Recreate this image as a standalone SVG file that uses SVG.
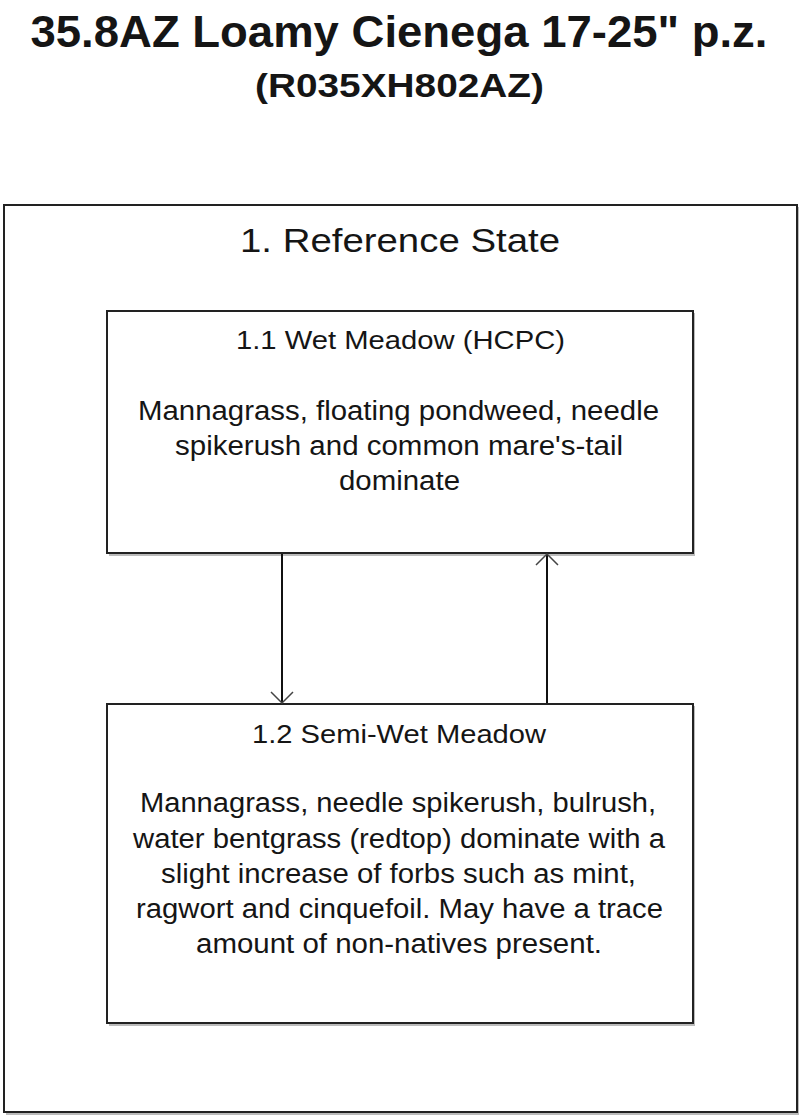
<svg xmlns="http://www.w3.org/2000/svg" width="800" height="1116" viewBox="0 0 800 1116">
<style>
.box{fill:#fff;stroke:#222;stroke-width:2}
.shadow{fill:#bbb;stroke:none}
.t{font-family:"Liberation Sans",Arial,sans-serif;fill:#151515;text-anchor:middle}
.title{font-size:45px;font-weight:bold}
.sub{font-size:33px;font-weight:bold}
.state{font-size:33px}
.hd{font-size:26px}
.body{font-size:27px}
.conn{stroke:#111;stroke-width:2;fill:none}
</style>
<defs>
<marker id="arr" viewBox="0 0 24 24" refX="22" refY="12" markerWidth="24" markerHeight="24" markerUnits="userSpaceOnUse" orient="auto">
<path d="M11,1 L22,12 L11,23" fill="none" stroke="#444" stroke-width="1.5"/>
</marker>
</defs>
<rect width="800" height="1116" fill="#fff"/>
<g id="title">
<text class="t title" x="399" y="47" textLength="737" lengthAdjust="spacingAndGlyphs">35.8AZ Loamy Cienega 17-25" p.z.</text>
<text class="t sub" x="399.5" y="97" textLength="289" lengthAdjust="spacingAndGlyphs">(R035XH802AZ)</text>
</g>
<g id="state1">
<rect class="shadow" x="6" y="207" width="793" height="908"/>
<rect class="box" x="4" y="205" width="793" height="907"/>
<text class="t state" x="400" y="252" textLength="320" lengthAdjust="spacingAndGlyphs">1. Reference State</text>
</g>
<g id="node11">
<rect class="shadow" x="109" y="313" width="586" height="243"/>
<rect class="box" x="107" y="311" width="586" height="242"/>
<text class="t hd" x="400.5" y="349" textLength="329" lengthAdjust="spacingAndGlyphs">1.1 Wet Meadow (HCPC)</text>
<text class="t body" x="398.5" y="420" textLength="521" lengthAdjust="spacingAndGlyphs">Mannagrass, floating pondweed, needle</text>
<text class="t body" x="399" y="455" textLength="448" lengthAdjust="spacingAndGlyphs">spikerush and common mare's-tail</text>
<text class="t body" x="399.5" y="490" textLength="121" lengthAdjust="spacingAndGlyphs">dominate</text>
</g>
<g id="node12">
<rect class="shadow" x="109" y="706" width="586" height="320"/>
<rect class="box" x="107" y="704" width="586" height="319"/>
<text class="t hd" x="399" y="743" textLength="294" lengthAdjust="spacingAndGlyphs">1.2 Semi-Wet Meadow</text>
<text class="t body" x="398" y="812" textLength="516" lengthAdjust="spacingAndGlyphs">Mannagrass, needle spikerush, bulrush,</text>
<text class="t body" x="399" y="848" textLength="532" lengthAdjust="spacingAndGlyphs">water bentgrass (redtop) dominate with a</text>
<text class="t body" x="398.5" y="883" textLength="475" lengthAdjust="spacingAndGlyphs">slight increase of forbs such as mint,</text>
<text class="t body" x="399.5" y="918" textLength="527" lengthAdjust="spacingAndGlyphs">ragwort and cinquefoil. May have a trace</text>
<text class="t body" x="399" y="953" textLength="406" lengthAdjust="spacingAndGlyphs">amount of non-natives present.</text>
</g>
<g id="connectors">
<line class="conn" x1="282" y1="554" x2="282" y2="703" marker-end="url(#arr)"/>
<line class="conn" x1="547" y1="703" x2="547" y2="554" marker-end="url(#arr)"/>
</g>
</svg>
